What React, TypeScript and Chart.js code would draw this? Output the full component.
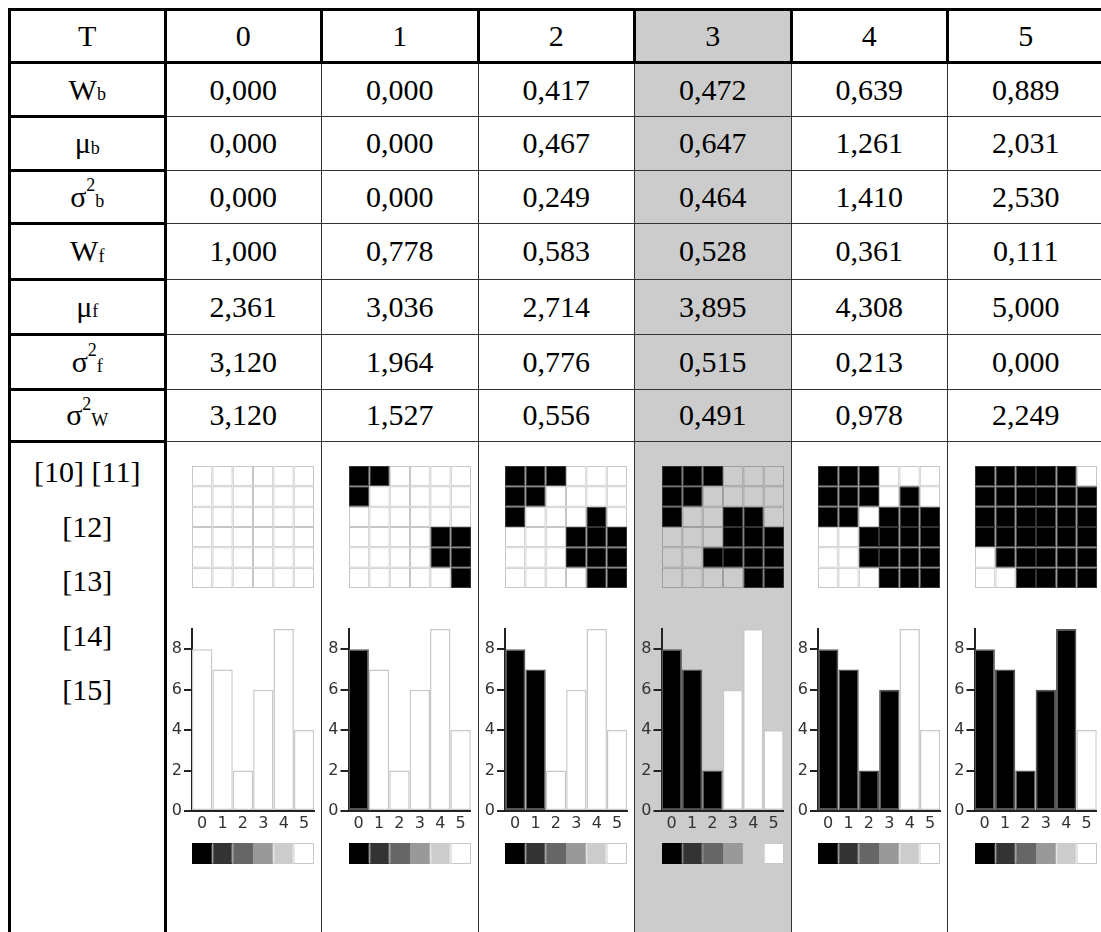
import React, { useEffect, useRef } from 'react';
import { Chart, registerables } from 'chart.js';

Chart.register(...registerables);

// ---------------- data ----------------
const thresholds = [0, 1, 2, 3, 4, 5];
const highlightT = 3;
const wB = [0, 0, 0.417, 0.472, 0.639, 0.889];
const muB = [0, 0, 0.467, 0.647, 1.261, 2.031];
const varB = [0, 0, 0.249, 0.464, 1.41, 2.53];
const wF = [1, 0.778, 0.583, 0.528, 0.361, 0.111];
const muF = [2.361, 3.036, 2.714, 3.895, 4.308, 5.0];
const varF = [3.12, 1.964, 0.776, 0.515, 0.213, 0.0];
const varW = [3.12, 1.527, 0.556, 0.491, 0.978, 2.249];
const levels = ['0', '1', '2', '3', '4', '5'];
const histogram = [8, 7, 2, 6, 9, 4];
const grayLevels = ['#000000', '#333333', '#666666', '#999999', '#cccccc', '#ffffff'];
const stripValues = [1, 1, 1, 1, 1, 1];
const image = [
  [0, 0, 1, 4, 4, 5],
  [0, 1, 3, 4, 3, 4],
  [1, 3, 4, 2, 1, 3],
  [4, 4, 3, 1, 0, 0],
  [5, 4, 2, 1, 0, 0],
  [5, 5, 4, 3, 1, 0],
];
const refLabels = ['[10] [11]', '[12]', '[13]', '[14]', '[15]'];

// ---------------- layout ----------------
const C = [9.5, 165, 321.5, 478, 634.5, 791, 947.5, 1104];
const R = [9.5, 62.5, 116.5, 170, 223.5, 279, 334, 389, 441.5];
const BOTTOM = 960;
const SERIF = '"Liberation Serif", "Times New Roman", serif';
const SANS = '"DejaVu Sans", sans-serif';

const fmt = (v: number) => v.toFixed(3).replace('.', ',');
const sub = (s: string) => (
  <span style={{ fontSize: 18, position: 'relative', top: 5 }}>{s}</span>
);
const sup = (s: string) => (
  <span style={{ fontSize: 18, position: 'relative', top: -11 }}>{s}</span>
);
const rowLabels = [
  <>W{sub('b')}</>,
  <>μ{sub('b')}</>,
  <>σ{sup('2')}{sub('b')}</>,
  <>W{sub('f')}</>,
  <>μ{sub('f')}</>,
  <>σ{sup('2')}{sub('f')}</>,
  <>σ{sup('2')}{sub('W')}</>,
];
const rowValues = [wB, muB, varB, wF, muF, varF, varW];

function useChart(build: () => any) {
  const ref = useRef<HTMLCanvasElement>(null);
  useEffect(() => {
    const chart = new Chart(ref.current as HTMLCanvasElement, build());
    return () => chart.destroy();
  }, []);
  return ref;
}

function PixelGrid({ t, x, y, w, h }: { t: number; x: number; y: number; w: number; h: number }) {
  const ref = useChart(() => ({
    type: 'bar',
    data: {
      labels: levels,
      datasets: image.map((row) => ({
        data: row.map(() => 1),
        backgroundColor: row.map((v) => (v < t ? '#000000' : 'rgba(0,0,0,0)')),
        borderColor: row.map((v) => (v < t ? '#333333' : 'rgba(0,0,0,0.22)')),
        borderWidth: 1,
        borderSkipped: false,
        barPercentage: 1,
        categoryPercentage: 1,
        inflateAmount: 0,
      })),
    },
    options: {
      responsive: false,
      animation: false,
      layout: { padding: 0 },
      plugins: { legend: { display: false }, tooltip: { enabled: false } },
      scales: {
        x: { display: false, stacked: true },
        y: { display: false, stacked: true, min: 0, max: 6, reverse: true },
      },
    },
  }));
  return (
    <canvas
      ref={ref}
      width={w}
      height={h}
      style={{ position: 'absolute', left: x, top: y, width: w, height: h }}
    />
  );
}

function Histogram({ t, colLine }: { t: number; colLine: number }) {
  const left = Math.round(colLine + 3);
  const top = 612;
  const width = 152;
  const height = 230;
  const areaLeft = colLine + 27;
  const areaRight = colLine + 149.3;
  const areaTop = 629;
  const areaBottom = 811;
  const ref = useChart(() => ({
    type: 'bar',
    data: {
      labels: levels,
      datasets: [
        {
          data: histogram,
          backgroundColor: histogram.map((_, i) => (i < t ? '#000000' : '#ffffff')),
          borderColor: histogram.map((_, i) => (i < t ? '#555555' : '#c8c8c8')),
          borderWidth: 1.5,
          borderSkipped: false,
          barPercentage: 1,
          categoryPercentage: 1,
          inflateAmount: 0,
        },
      ],
    },
    options: {
      responsive: false,
      animation: false,
      layout: { padding: { left: 0, top: areaTop - top, right: left + width - areaRight, bottom: 0 } },
      plugins: { legend: { display: false }, tooltip: { enabled: false } },
      scales: {
        x: {
          grid: { display: false, drawTicks: false },
          border: { display: true, color: '#222222', width: 2 },
          ticks: {
            font: { family: SANS, size: 16 },
            color: '#333333',
            padding: 3,
            maxRotation: 0,
            autoSkip: false,
          },
          afterFit: (s: any) => {
            s.height = top + height - areaBottom;
          },
        },
        y: {
          min: 0,
          max: 9,
          ticks: {
            stepSize: 2,
            includeBounds: false,
            font: { family: SANS, size: 16 },
            color: '#333333',
            padding: 2,
          },
          grid: { drawOnChartArea: false, drawTicks: true, tickLength: 8, color: '#222222', lineWidth: 2 },
          border: { display: true, color: '#222222', width: 2 },
          afterFit: (s: any) => {
            s.width = areaLeft - left;
          },
        },
      },
    },
  }));
  return (
    <canvas
      ref={ref}
      width={width}
      height={height}
      style={{ position: 'absolute', left, top, width, height }}
    />
  );
}

function GrayStrip({ x, y, w, h }: { x: number; y: number; w: number; h: number }) {
  const ref = useChart(() => ({
    type: 'bar',
    data: {
      labels: levels,
      datasets: [
        {
          data: stripValues,
          backgroundColor: grayLevels,
          borderColor: grayLevels.map((c) => (c === '#ffffff' ? '#c8c8c8' : c)),
          borderWidth: 1,
          borderSkipped: false,
          barPercentage: 1,
          categoryPercentage: 1,
          inflateAmount: 0,
        },
      ],
    },
    options: {
      responsive: false,
      animation: false,
      layout: { padding: 0 },
      plugins: { legend: { display: false }, tooltip: { enabled: false } },
      scales: {
        x: { display: false },
        y: { display: false, min: 0, max: 1 },
      },
    },
  }));
  return (
    <canvas
      ref={ref}
      width={w}
      height={h}
      style={{ position: 'absolute', left: x, top: y, width: w, height: h }}
    />
  );
}

function HLine({ x1, x2, y, thick }: { x1: number; x2: number; y: number; thick?: boolean }) {
  const t = thick ? 3 : 1;
  return (
    <div
      style={{
        position: 'absolute',
        left: Math.round(x1 - (thick ? 1.5 : 0)),
        width: Math.round(x2 - x1 + (thick ? 3 : 0)),
        top: Math.round(y - t / 2),
        height: t,
        background: thick ? '#000' : '#333',
      }}
    />
  );
}
function VLine({ y1, y2, x, thick }: { y1: number; y2: number; x: number; thick?: boolean }) {
  const t = thick ? 3 : 1;
  return (
    <div
      style={{
        position: 'absolute',
        top: Math.round(y1 - (thick ? 1.5 : 0)),
        height: Math.round(y2 - y1 + (thick ? 3 : 0)),
        left: Math.round(x - t / 2),
        width: t,
        background: thick ? '#000' : '#333',
      }}
    />
  );
}

function Cell({ c, r, children }: { c: number; r: number; children: any }) {
  return (
    <div
      style={{
        position: 'absolute',
        left: C[c],
        width: C[c + 1] - C[c],
        top: R[r],
        height: R[r + 1] - R[r],
        display: 'flex',
        alignItems: 'center',
        justifyContent: 'center',
        fontFamily: SERIF,
        fontSize: 30,
        color: '#000',
        whiteSpace: 'nowrap',
      }}
    >
      {children}
    </div>
  );
}

export default function App() {
  const lines: any[] = [];
  // thin data lines
  for (let r = 2; r <= 8; r++) lines.push(<HLine key={'th' + r} x1={C[1]} x2={C[7]} y={R[r]} />);
  for (let c = 2; c <= 6; c++) lines.push(<VLine key={'tv' + c} x={C[c]} y1={R[1]} y2={BOTTOM} />);
  // thick lines
  lines.push(<HLine key="top" x1={C[0]} x2={C[7]} y={R[0]} thick />);
  lines.push(<HLine key="hdr" x1={C[0]} x2={C[7]} y={R[1]} thick />);
  lines.push(<VLine key="left" x={C[0]} y1={R[0]} y2={BOTTOM} thick />);
  lines.push(<VLine key="lab" x={C[1]} y1={R[0]} y2={BOTTOM} thick />);
  for (let c = 2; c <= 6; c++) lines.push(<VLine key={'hv' + c} x={C[c]} y1={R[0]} y2={R[1]} thick />);
  for (let r = 2; r <= 8; r++) lines.push(<HLine key={'lh' + r} x1={C[0]} x2={C[1]} y={R[r]} thick />);

  return (
    <div
      style={{
        position: 'fixed',
        left: 0,
        top: 0,
        width: 1101,
        height: 932,
        overflow: 'hidden',
        background: '#fff',
      }}
    >
      <div
        style={{
          position: 'absolute',
          left: C[4 + highlightT - 3],
          width: C[5 + highlightT - 3] - C[4 + highlightT - 3],
          top: R[0],
          height: BOTTOM - R[0],
          background: '#cccccc',
        }}
      />
      <Cell c={0} r={0}>T</Cell>
      {thresholds.map((t, i) => (
        <Cell key={'h' + i} c={i + 1} r={0}>
          {String(t)}
        </Cell>
      ))}
      {rowLabels.map((lab, ri) => (
        <React.Fragment key={'row' + ri}>
          <Cell c={0} r={ri + 1}>{lab}</Cell>
          {rowValues[ri].map((v, ci) => (
            <Cell key={'v' + ri + '-' + ci} c={ci + 1} r={ri + 1}>
              {fmt(v)}
            </Cell>
          ))}
        </React.Fragment>
      ))}
      <div style={{ position: 'absolute', left: C[0], width: C[1] - C[0], top: 445.25 }}>
        {refLabels.map((s, i) => (
          <div
            key={'ref' + i}
            style={{
              height: 54.5,
              lineHeight: '54.5px',
              textAlign: 'center',
              fontFamily: SERIF,
              fontSize: 30,
              color: '#000',
              whiteSpace: 'nowrap',
            }}
          >
            {s}
          </div>
        ))}
      </div>
      {thresholds.map((t, i) => {
        const colLine = C[i + 1];
        const gx = Math.round(colLine + 27);
        return (
          <React.Fragment key={'charts' + i}>
            <PixelGrid t={t} x={gx} y={466} w={122} h={122} />
            <Histogram t={t} colLine={colLine} />
            <GrayStrip x={gx} y={843} w={122} h={21} />
          </React.Fragment>
        );
      })}
      {lines}
    </div>
  );
}
